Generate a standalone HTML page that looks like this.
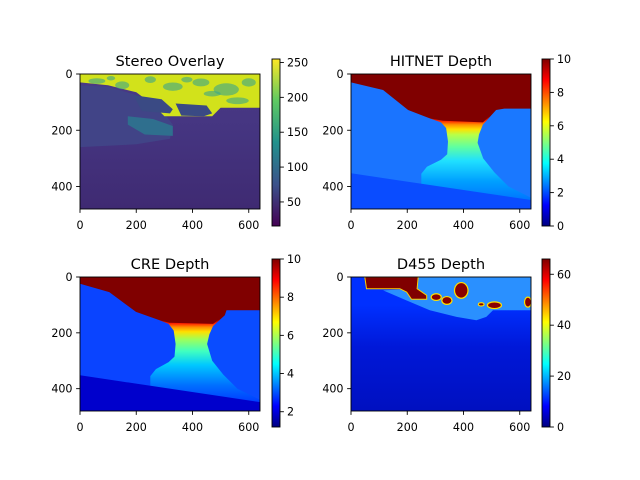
<!DOCTYPE html>
<html><head><meta charset="utf-8"><style>
body{margin:0;background:#fff}
svg{display:block;font-family:"DejaVu Sans","Liberation Sans",sans-serif}
</style></head><body>
<svg id="fig" width="640" height="480" viewBox="0 0 640 480">
<defs>
<linearGradient id="jetV" x1="0" y1="1" x2="0" y2="0">
<stop offset="0" stop-color="#000080"/><stop offset="0.125" stop-color="#0000ff"/><stop offset="0.375" stop-color="#00ffff"/><stop offset="0.625" stop-color="#ffff00"/><stop offset="0.875" stop-color="#ff0000"/><stop offset="1" stop-color="#800000"/>
</linearGradient>
<linearGradient id="virV" x1="0" y1="1" x2="0" y2="0">
<stop offset="0" stop-color="#440154"/><stop offset="0.25" stop-color="#3b528b"/><stop offset="0.5" stop-color="#21918c"/><stop offset="0.75" stop-color="#5ec962"/><stop offset="1" stop-color="#fde725"/>
</linearGradient>
</defs>
</svg>
<script>
// ---- data ----
const xTicks = [0, 200, 400, 600];
const yTicks = [0, 200, 400];
const imgW = 640, imgH = 480;
const titles = ["Stereo Overlay", "HITNET Depth", "CRE Depth", "D455 Depth"];
const cbRanges = [[15.5, 255], [0, 10], [1.2, 10], [0, 66]];
const cbTicks = [[50, 100, 150, 200, 250], [0, 2, 4, 6, 8, 10], [2, 4, 6, 8, 10], [0, 20, 40, 60]];
// depth maps: sky boundary (image px coords)
const hitBoundary = [[0,30],[114,57],[203,128],[280,158],[327,166],[469,172],[516,128],[545,123],[640,123]];
const hitLeftCar = [[0,30],[114,57],[203,128],[280,158],[320,172],[338,192],[345,240],[342,285],[320,305],[270,330],[250,355],[250,480],[0,480]];
const hitRightCar = [[469,180],[455,215],[450,245],[470,300],[510,350],[560,400],[640,440],[640,123],[545,123],[516,128]];
const hitBottom = [[0,353],[640,448],[640,480],[0,480]];
const creBoundary = [[0,24],[104,54],[199,125],[283,155],[318,164],[473,168],[515,137],[521,119],[640,119]];
const creLeftCar = [[0,24],[104,54],[199,125],[283,155],[315,168],[333,192],[340,240],[336,285],[315,305],[270,330],[250,355],[250,480],[0,480]];
const creRightCar = [[473,176],[460,205],[452,240],[470,300],[510,350],[560,400],[640,440],[640,119],[521,119],[515,137]];
const creBottom = [[0,352],[640,448],[640,480],[0,480]];
const d455Sky = [[114,48],[197,84],[280,119],[375,143],[446,155],[481,143],[505,119],[640,119],[640,0],[232,0],[232,42]];
const d455Blob = [[49,0],[239,0],[235,42],[269,66],[269,80],[215,80],[198,54],[174,42],[55,42]];
const d455Ellipses = [[303,72,18,12],[341,84,18,14],[392,48,24,28],[510,101,25,12],[463,98,10,6],[629,90,12,18]];
const stereoBright = [[0,0],[640,0],[640,120],[500,120],[470,150],[300,150],[260,110],[200,65],[100,40],[0,30]];
const stereoSpots = [[60,25,30,10],[150,40,25,14],[250,20,20,12],[330,45,35,15],[430,30,30,14],[520,55,45,22],[600,30,25,15],[110,15,15,8],[470,70,30,10],[560,95,40,12],[380,20,20,10]];
const stereoCarRoof = [[0,40],[100,45],[200,75],[260,110],[300,140],[330,180],[320,230],[200,250],[0,260]];
const stereoTeal = [[170,150],[260,160],[330,185],[330,220],[230,215],[170,180]];
const stereoMidCars = [[[190,75],[290,90],[330,125],[320,140],[220,132]],[[340,105],[450,112],[470,140],[440,150],[360,148]]];

// ---- layout ----
const panels = [
  {x0:80, y0:74, w:180, h:135, cb:[272,59,8,167]},
  {x0:351, y0:74, w:180, h:135, cb:[542,59,8,167]},
  {x0:80, y0:277, w:180, h:134, cb:[272,259,8,168]},
  {x0:351, y0:277, w:180, h:134, cb:[542,259,8,168]}
];
const NS = "http://www.w3.org/2000/svg";
const svg = document.getElementById("fig");
const defs = svg.querySelector("defs");
function mk(tag, attrs, parent){const e=document.createElementNS(NS,tag);for(const k in attrs)e.setAttribute(k,attrs[k]);(parent||svg).appendChild(e);return e;}
function ax(p){return {x:v=>p.x0+v*p.w/imgW, y:v=>p.y0+v*p.h/imgH};}
function pts(a,arr){return arr.map(q=>a.x(q[0]).toFixed(1)+","+a.y(q[1]).toFixed(1)).join(" ");}
function grad(id,a,y1,y2,stops){
  const g=mk("linearGradient",{id:id,gradientUnits:"userSpaceOnUse",x1:0,x2:0,y1:a.y(y1),y2:a.y(y2)},defs);
  stops.forEach(s=>mk("stop",{offset:s[0],"stop-color":s[1]},g));
}
function poly(g,a,arr,fill,name){const e=mk("polygon",{points:pts(a,arr),fill:fill},g);


return e;}

panels.forEach((p,i)=>{
  const a=ax(p);
  const g=mk("g",{});
  
  
  const cp=mk("clipPath",{id:"clip"+i},defs); mk("rect",{x:p.x0,y:p.y0,width:p.w,height:p.h},cp);
  const ig=mk("g",{"clip-path":"url(#clip"+i+")"},g);
  
  
  if(i===0){
    grad("st0",a,0,480,[[0,"#4a3a86"],[0.4,"#453581"],[1,"#3f2a72"]]);
    mk("rect",{x:p.x0,y:p.y0,width:p.w,height:p.h,fill:"url(#st0)"},ig);
    poly(ig,a,stereoCarRoof,"#414487","left-car");
    poly(ig,a,stereoTeal,"#2f6f8e","car-hood");
    poly(ig,a,stereoBright,"#d2e21b","bright-background");
    stereoSpots.forEach(s=>mk("ellipse",{cx:a.x(s[0]),cy:a.y(s[1]),rx:s[2]*p.w/imgW,ry:s[3]*p.h/imgH,fill:"#3aa58a",opacity:0.6},ig));
    stereoMidCars.forEach(c=>poly(ig,a,c,"#3a4a84","parked-car"));
  } else if(i===1){
    grad("road1",a,150,480,[[0,"#800000"],[0.05,"#ff2000"],[0.09,"#ff9000"],[0.14,"#ffe000"],[0.2,"#b8ff48"],[0.33,"#60ffa0"],[0.48,"#20e0ff"],[0.7,"#00a0ff"],[1,"#0060ff"]]);
    mk("rect",{x:p.x0,y:p.y0,width:p.w,height:p.h,fill:"#800000"},ig);
    poly(ig,a,hitBoundary.concat([[640,480],[0,480]]),"url(#road1)","road");
    poly(ig,a,hitLeftCar,"#1a74ff","left-car");
    poly(ig,a,hitRightCar,"#1a78ff","right-car");
    poly(ig,a,hitBottom,"#0a4cff","ground");
  } else if(i===2){
    grad("road2",a,150,480,[[0,"#800000"],[0.05,"#ff2000"],[0.09,"#ff9000"],[0.14,"#ffe000"],[0.22,"#a0ff58"],[0.35,"#40ffc0"],[0.5,"#00c8ff"],[0.72,"#0070ff"],[1,"#0020ff"]]);
    mk("rect",{x:p.x0,y:p.y0,width:p.w,height:p.h,fill:"#800000"},ig);
    poly(ig,a,creBoundary.concat([[640,480],[0,480]]),"url(#road2)","road");
    poly(ig,a,creLeftCar,"#0a44ff","left-car");
    poly(ig,a,creRightCar,"#0a4cff","right-car");
    poly(ig,a,creBottom,"#0000cc","ground");
  } else {
    grad("d4",a,100,480,[[0,"#0030ff"],[0.4,"#0018d8"],[1,"#0010c0"]]);
    mk("rect",{x:p.x0,y:p.y0,width:p.w,height:p.h,fill:"url(#d4)"},ig);
    poly(ig,a,d455Sky,"#2a90ff","far-background");
    poly(ig,a,d455Blob,"#800000","invalid-region").setAttribute("stroke","#ffd000");
    d455Ellipses.forEach(s=>{const e=mk("ellipse",{cx:a.x(s[0]),cy:a.y(s[1]),rx:s[2]*p.w/imgW,ry:s[3]*p.h/imgH,fill:"#8a0000",stroke:"#ffe000","stroke-width":1.2},ig);
      
      });
  }
  mk("rect",{x:p.x0,y:p.y0,width:p.w,height:p.h,fill:"none",stroke:"#000","stroke-width":0.9},g);
  // ticks
  xTicks.forEach(t=>{const X=a.x(t);mk("line",{x1:X,x2:X,y1:p.y0+p.h,y2:p.y0+p.h+3.9,stroke:"#000","stroke-width":0.9},g);
    const tx=mk("text",{x:X,y:p.y0+p.h+20,"font-size":11.1,"text-anchor":"middle"},g);tx.textContent=t;
    
    });
  yTicks.forEach(t=>{const Y=a.y(t);mk("line",{x1:p.x0-3.9,x2:p.x0,y1:Y,y2:Y,stroke:"#000","stroke-width":0.9},g);
    const tx=mk("text",{x:p.x0-7.5,y:Y+4,"font-size":11.1,"text-anchor":"end"},g);tx.textContent=t;
    
    });
  const tt=mk("text",{x:p.x0+p.w/2,y:p.y0-8,"font-size":14.6,"text-anchor":"middle"},g);tt.textContent=titles[i];
  
  
  // colorbar
  const [cx,cy,cw,ch]=p.cb, r=cbRanges[i];
  const cb=mk("rect",{x:cx,y:cy,width:cw,height:ch,fill:i===0?"url(#virV)":"url(#jetV)",stroke:"#000","stroke-width":0.9},g);
  
  
  const cyv=v=>cy+ch-(v-r[0])/(r[1]-r[0])*ch;
  cbTicks[i].forEach(t=>{const Y=cyv(t);mk("line",{x1:cx+cw,x2:cx+cw+3.9,y1:Y,y2:Y,stroke:"#000","stroke-width":0.9},g);
    const tx=mk("text",{x:cx+cw+7,y:Y+4,"font-size":11.1},g);tx.textContent=t;
    
    });
});
</script>
</body></html>
